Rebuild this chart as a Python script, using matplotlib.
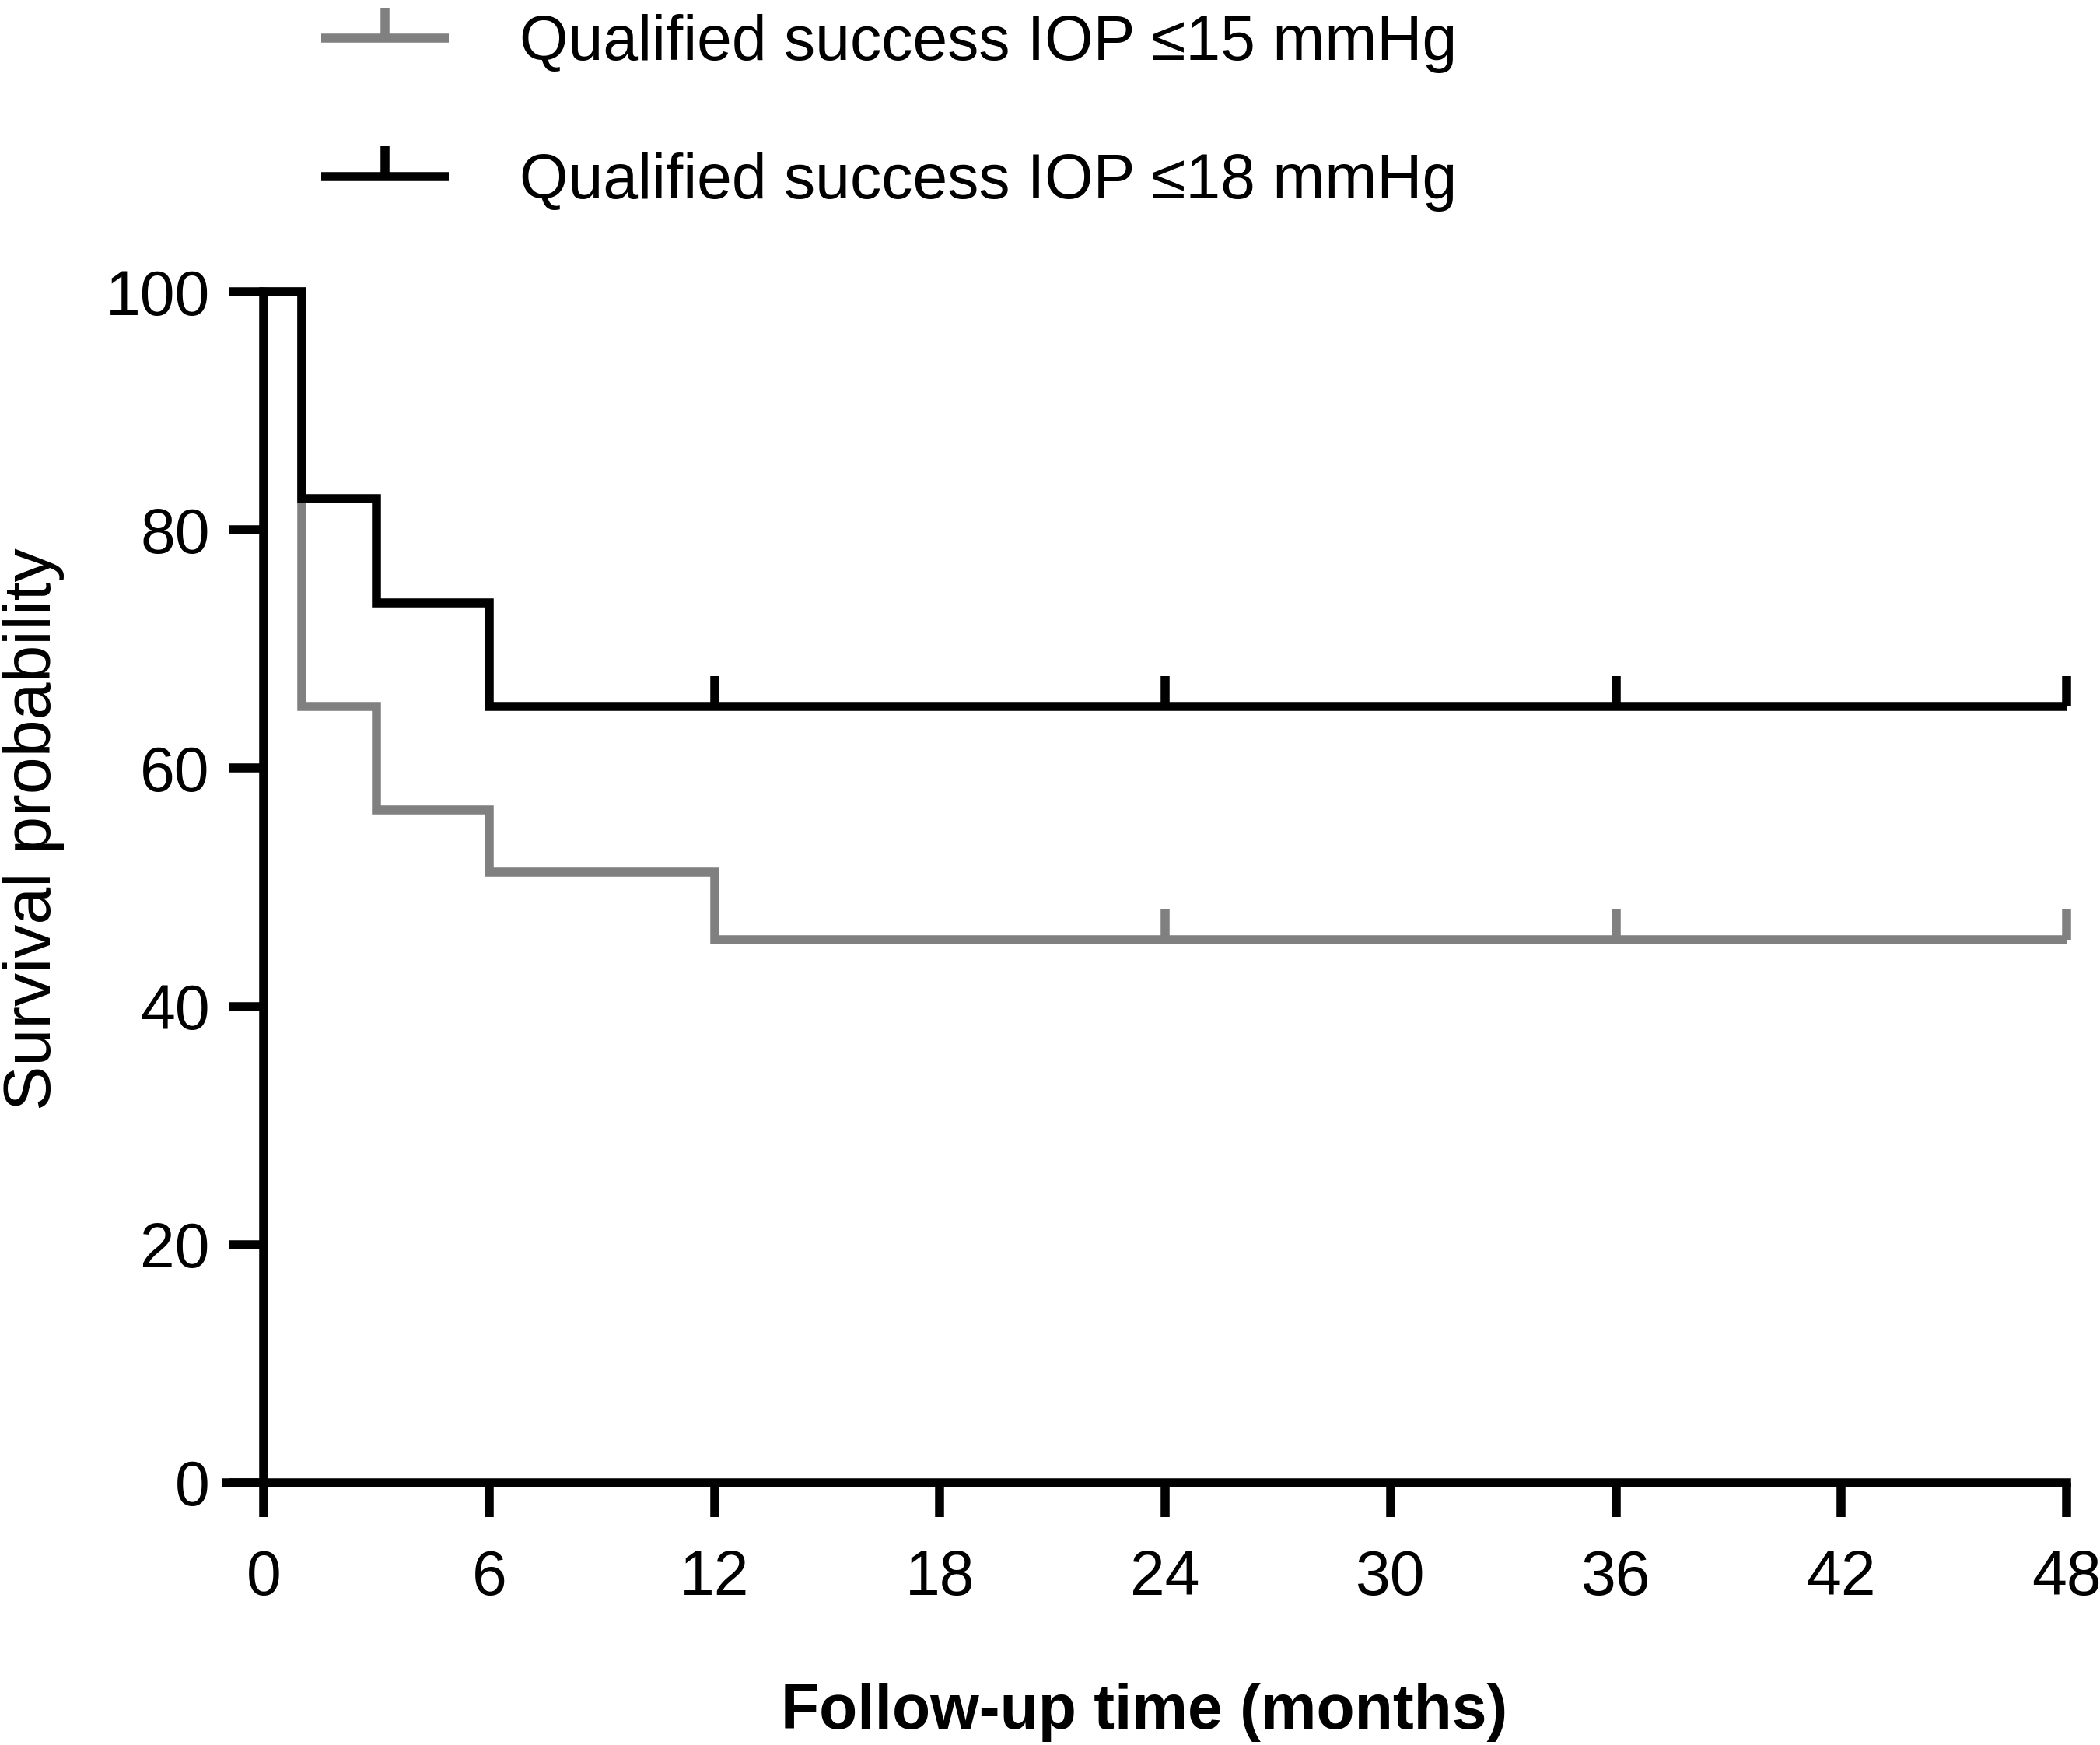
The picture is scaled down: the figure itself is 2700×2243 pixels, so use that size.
import numpy as np
import matplotlib
matplotlib.use("Agg")
import matplotlib.pyplot as plt
from matplotlib.path import Path

# Kaplan-Meier steps
times_15 = [0, 1, 3, 6, 12, 48]
surv_15 = [100, 65.2, 56.5, 51.3, 45.6, 45.6]
censor_15 = [24, 36, 48]

times_18 = [0, 1, 3, 6, 48]
surv_18 = [100, 82.6, 73.9, 65.2, 65.2]
censor_18 = [12, 24, 36, 48]

labels = ["Qualified success IOP \u226415 mmHg", "Qualified success IOP \u226418 mmHg"]
colors = ["#808080", "#000000"]
xticks = [0, 6, 12, 18, 24, 30, 36, 42, 48]
yticks = [0, 20, 40, 60, 80, 100]

plt.rcParams['font.family'] = ['Liberation Sans', 'DejaVu Sans']

LW = 8.3
# censor tick: a short stroke going up from the curve
tick_up = Path([(0, 0), (0, 1)], [Path.MOVETO, Path.LINETO])


def step_value(times, surv, t):
    i = np.searchsorted(times, t, side='right') - 1
    return np.asarray(surv)[i]


fig = plt.figure(figsize=(27, 22.43), dpi=100)
ax = fig.add_axes([291 / 2700, 1 - 1906 / 2243, (2657 - 291) / 2700, (1906 - 375) / 2243])

for times, surv, cens, col, lab, z in [(times_15, surv_15, censor_15, colors[0], labels[0], 3),
                                       (times_18, surv_18, censor_18, colors[1], labels[1], 4)]:
    ax.plot(times, surv, drawstyle='steps-post', color=col, lw=LW, zorder=z,
            clip_on=False, solid_joinstyle='miter', solid_capstyle='butt')
    cy = [step_value(times, surv, c) for c in cens]
    ax.plot(cens, cy, ls='none', marker=tick_up, ms=56, mew=LW, color=col,
            zorder=z, clip_on=False)
    # legend proxy
    ax.plot([], [], color=col, lw=LW, marker=tick_up, ms=56, mew=LW,
            solid_capstyle='butt', label=lab)

ax.set_xlim(-1, 48)
ax.set_ylim(0, 100)
ax.set_xticks(xticks)
ax.set_yticks(yticks)
ax.tick_params(axis='both', direction='out', length=32, width=LW, color='black',
               labelsize=58)
ax.tick_params(axis='x', pad=29)
ax.tick_params(axis='y', pad=18)

for s in ['top', 'right']:
    ax.spines[s].set_visible(False)
ax.spines['left'].set_position(('data', 0))
ax.spines['left'].set_bounds(0, 100)
ax.spines['left'].set_linewidth(LW)
ax.spines['bottom'].set_linewidth(LW)
ax.spines['left'].set_capstyle('projecting')

fig.text(43 / 2700, 1 - 1066 / 2243, "Survival probability", rotation=90,
         ha='center', va='center', fontsize=62)
fig.text(1471 / 2700, 1 - 2222 / 2243, "Follow-up time (months)",
         ha='center', va='baseline', fontsize=58, fontweight='bold')

handles, labs = ax.get_legend_handles_labels()
leg = ax.legend(handles, labs, loc='upper left', bbox_to_anchor=(413 / 2700, 0.992),
                bbox_transform=fig.transFigure, frameon=False, fontsize=58,
                handlelength=2.03, handletextpad=1.14, labelspacing=1.27,
                borderpad=0, borderaxespad=0, numpoints=1)

fig.savefig("out.png", dpi=100)
